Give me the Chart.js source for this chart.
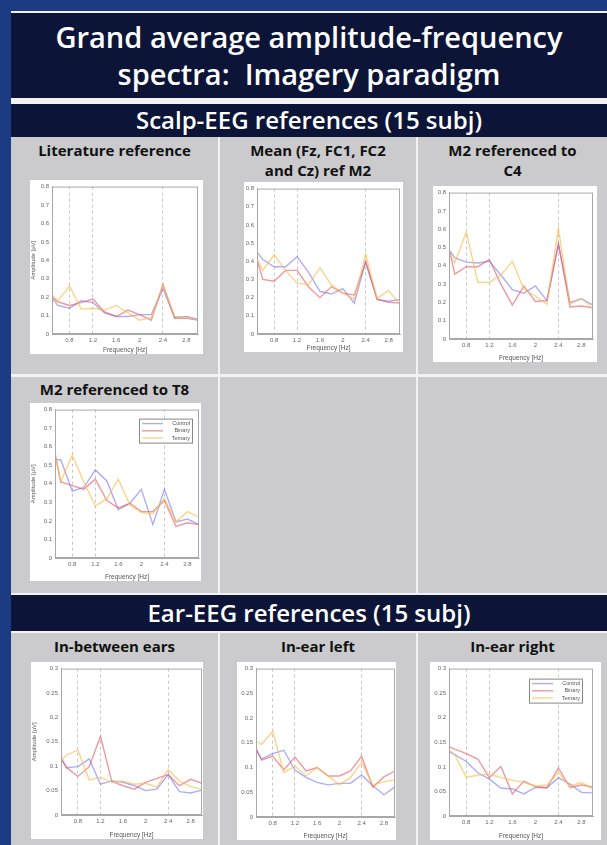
<!DOCTYPE html>
<html>
<head>
<meta charset="utf-8">
<script src="https://cdn.jsdelivr.net/npm/chart.js@4.4.1/dist/chart.umd.min.js"></script>
<style>
  body { margin: 0; width: 607px; height: 845px; background: #1b3b82; overflow: hidden; position: relative; font-family: 'Open Sans', sans-serif; }
  .blk { position: absolute; }
  .navy { background: #0c1538; color: #fff; text-align: center; font-weight: 600; }
  .grey { background: #cbcbcd; }
  .cap { position: absolute; text-align: center; font-weight: 700; font-size: 15px; color: #111; line-height: 20px; }
  .box { position: absolute; background: #fff; }
</style>
</head>
<body>
<div class="blk" style="left:11px;top:11px;width:596px;height:834px;background:#f2f2f2"></div>
<div class="blk navy" style="left:11px;top:13px;width:596px;height:85px;font-size:29px;line-height:37px;padding-top:5px;box-sizing:border-box">Grand average amplitude-frequency<br>spectra:&nbsp; Imagery paradigm</div>
<div class="blk navy" style="left:11px;top:104px;width:596px;height:33px;font-size:24px;line-height:32px">Scalp-EEG references (15 subj)</div>

<div class="blk grey" style="left:11px;top:137px;width:207px;height:237px"></div>
<div class="blk grey" style="left:220px;top:137px;width:196px;height:237px"></div>
<div class="blk grey" style="left:418px;top:137px;width:189px;height:237px"></div>
<div class="blk grey" style="left:11px;top:377px;width:207px;height:216px"></div>
<div class="blk grey" style="left:220px;top:377px;width:196px;height:216px"></div>
<div class="blk grey" style="left:418px;top:377px;width:189px;height:216px"></div>

<div class="blk navy" style="left:11px;top:595px;width:596px;height:36px;font-size:24px;line-height:35px">Ear-EEG references (15 subj)</div>

<div class="blk grey" style="left:11px;top:633px;width:207px;height:212px"></div>
<div class="blk grey" style="left:220px;top:633px;width:196px;height:212px"></div>
<div class="blk grey" style="left:418px;top:633px;width:189px;height:212px"></div>

<div class="cap" style="left:11px;top:140px;width:207px">Literature reference</div>
<div class="cap" style="left:220px;top:140px;width:196px">Mean (Fz, FC1, FC2<br>and Cz) ref M2</div>
<div class="cap" style="left:418px;top:140px;width:189px">M2 referenced to<br>C4</div>
<div class="cap" style="left:11px;top:379px;width:207px">M2 referenced to T8</div>
<div class="cap" style="left:11px;top:636px;width:207px">In-between ears</div>
<div class="cap" style="left:220px;top:636px;width:196px">In-ear left</div>
<div class="cap" style="left:418px;top:636px;width:189px">In-ear right</div>

<div class="box" id="b1"><canvas id="c1"></canvas></div>
<div class="box" id="b2"><canvas id="c2"></canvas></div>
<div class="box" id="b3"><canvas id="c3"></canvas></div>
<div class="box" id="b4"><canvas id="c4"></canvas></div>
<div class="box" id="b5"><canvas id="c5"></canvas></div>
<div class="box" id="b6"><canvas id="c6"></canvas></div>
<div class="box" id="b7"><canvas id="c7"></canvas></div>

<script>
// frequencies (Hz) shown on the x axis
const freq = [0.5, 0.6, 0.8, 1.0, 1.2, 1.4, 1.6, 1.8, 2.0, 2.2, 2.4, 2.6, 2.8, 3.0];
const xTicks = [0.8, 1.2, 1.6, 2, 2.4, 2.8];
const xTickLabels = ['0.8', '1.2', '1.6', '2', '2.4', '2.8'];
const dashedFreqs = [0.8, 1.2, 2.4];
const scalpYTicks = [0, 0.1, 0.2, 0.3, 0.4, 0.5, 0.6, 0.7, 0.8];
const scalpYLabels = ['0', '0.1', '0.2', '0.3', '0.4', '0.5', '0.6', '0.7', '0.8'];
const earYTicks = [0, 0.05, 0.1, 0.15, 0.2, 0.25, 0.3];
const earYLabels = ['0', '0.05', '0.1', '0.15', '0.2', '0.25', '0.3'];
const seriesNames = ['Control', 'Binary', 'Ternary'];

// Literature reference
const litControl = [0.195, 0.155, 0.14, 0.18, 0.17, 0.115, 0.095, 0.095, 0.105, 0.105, 0.245, 0.09, 0.095, 0.08];
const litBinary  = [0.2, 0.175, 0.155, 0.17, 0.19, 0.12, 0.095, 0.13, 0.105, 0.075, 0.27, 0.085, 0.085, 0.075];
const litTernary = [0.21, 0.18, 0.26, 0.135, 0.14, 0.13, 0.155, 0.115, 0.075, 0.09, 0.265, 0.095, 0.09, 0.075];
// Mean (Fz, FC1, FC2 and Cz) ref M2
const meanControl = [0.45, 0.41, 0.37, 0.37, 0.425, 0.34, 0.235, 0.22, 0.25, 0.17, 0.40, 0.19, 0.18, 0.19];
const meanBinary  = [0.41, 0.30, 0.29, 0.35, 0.35, 0.26, 0.20, 0.26, 0.225, 0.215, 0.395, 0.19, 0.175, 0.17];
const meanTernary = [0.41, 0.35, 0.435, 0.35, 0.28, 0.27, 0.365, 0.27, 0.225, 0.19, 0.44, 0.195, 0.24, 0.16];
// M2 referenced to C4
const c4Control = [0.485, 0.445, 0.42, 0.415, 0.425, 0.35, 0.27, 0.25, 0.29, 0.21, 0.52, 0.20, 0.22, 0.185];
const c4Binary  = [0.495, 0.355, 0.395, 0.395, 0.435, 0.30, 0.185, 0.29, 0.205, 0.21, 0.52, 0.175, 0.18, 0.17];
const c4Ternary = [0.475, 0.415, 0.585, 0.31, 0.31, 0.35, 0.425, 0.27, 0.235, 0.19, 0.605, 0.19, 0.22, 0.165];
// M2 referenced to T8
const t8Control = [0.53, 0.53, 0.36, 0.38, 0.475, 0.415, 0.26, 0.295, 0.37, 0.18, 0.37, 0.195, 0.21, 0.18];
const t8Binary  = [0.565, 0.41, 0.39, 0.37, 0.425, 0.31, 0.27, 0.295, 0.25, 0.25, 0.31, 0.17, 0.19, 0.18];
const t8Ternary = [0.56, 0.41, 0.555, 0.41, 0.28, 0.32, 0.425, 0.285, 0.245, 0.24, 0.32, 0.195, 0.25, 0.22];
// In-between ears
const betwControl = [0.115, 0.097, 0.099, 0.115, 0.063, 0.07, 0.067, 0.06, 0.05, 0.053, 0.083, 0.048, 0.045, 0.051];
const betwBinary  = [0.117, 0.097, 0.079, 0.099, 0.161, 0.069, 0.06, 0.053, 0.067, 0.075, 0.083, 0.06, 0.073, 0.065];
const betwTernary = [0.111, 0.123, 0.133, 0.072, 0.077, 0.067, 0.07, 0.063, 0.065, 0.057, 0.093, 0.07, 0.058, 0.053];
// In-ear left
const leftControl = [0.137, 0.117, 0.128, 0.135, 0.095, 0.08, 0.07, 0.065, 0.068, 0.068, 0.085, 0.063, 0.045, 0.061];
const leftBinary  = [0.139, 0.115, 0.123, 0.095, 0.121, 0.093, 0.1, 0.083, 0.083, 0.093, 0.123, 0.06, 0.081, 0.093];
const leftTernary = [0.153, 0.147, 0.173, 0.09, 0.103, 0.083, 0.1, 0.083, 0.065, 0.08, 0.11, 0.065, 0.071, 0.075];
// In-ear right
const rightControl = [0.131, 0.125, 0.111, 0.088, 0.075, 0.057, 0.055, 0.045, 0.058, 0.058, 0.078, 0.065, 0.048, 0.047];
const rightBinary  = [0.141, 0.136, 0.127, 0.116, 0.078, 0.101, 0.045, 0.071, 0.06, 0.057, 0.098, 0.058, 0.063, 0.059];
const rightTernary = [0.135, 0.125, 0.079, 0.083, 0.085, 0.078, 0.073, 0.068, 0.061, 0.063, 0.088, 0.061, 0.068, 0.055];

const lineColors = ['rgba(105,105,245,0.55)', 'rgba(228,85,95,0.6)', 'rgba(250,188,75,0.65)'];

// box = white image [left, top, width, height]; plot = axes [left, top, right, bottom]
const panels = [
  { id: 'c1', box: [30, 180, 173, 174], plot: [52, 185, 198, 334], ear: false, ytitle: true,  legend: false, series: [litControl, litBinary, litTernary] },
  { id: 'c2', box: [244, 182, 159, 170], plot: [257, 185, 400, 334], ear: false, ytitle: false, legend: false, series: [meanControl, meanBinary, meanTernary] },
  { id: 'c3', box: [433, 186, 164, 176], plot: [449, 189, 593, 339], ear: false, ytitle: false, legend: false, series: [c4Control, c4Binary, c4Ternary] },
  { id: 'c4', box: [30, 403, 171, 178], plot: [55, 408, 199, 558], ear: false, ytitle: true,  legend: true,  series: [t8Control, t8Binary, t8Ternary] },
  { id: 'c5', box: [31, 662, 172, 177], plot: [61, 665, 202, 815], ear: true,  ytitle: true,  legend: false, series: [betwControl, betwBinary, betwTernary] },
  { id: 'c6', box: [237, 662, 159, 178], plot: [256, 665, 395, 817], ear: true,  ytitle: false, legend: false, series: [leftControl, leftBinary, leftTernary] },
  { id: 'c7', box: [430, 662, 171, 178], plot: [449, 663, 593, 816], ear: true,  ytitle: false, legend: true,  series: [rightControl, rightBinary, rightTernary] }
];

// frame around the axes and the small MATLAB-like legend
const framePlugin = {
  id: 'frame',
  afterDraw(chart, args, opts) {
    const { ctx, chartArea: a } = chart;
    ctx.save();
    ctx.strokeStyle = '#a8a8a8';
    ctx.lineWidth = 1;
    ctx.strokeRect(a.left + 0.5, a.top + 0.5, a.right - a.left - 1, a.bottom - a.top - 1);
    if (opts.legend) {
      const w = 53, h = 24;
      const x = a.right - w - opts.inset[0], y = a.top + opts.inset[1];
      ctx.fillStyle = '#fff';
      ctx.fillRect(x, y, w, h);
      ctx.strokeStyle = '#888';
      ctx.strokeRect(x + 0.5, y + 0.5, w, h);
      ctx.font = '5.5px "Liberation Sans", Arial, sans-serif';
      ctx.textAlign = 'right';
      ctx.textBaseline = 'middle';
      seriesNames.forEach((name, i) => {
        const ly = y + 5 + i * 7.2;
        ctx.strokeStyle = lineColors[i];
        ctx.lineWidth = 1.4;
        ctx.beginPath();
        ctx.moveTo(x + 3, ly);
        ctx.lineTo(x + 24, ly);
        ctx.stroke();
        ctx.fillStyle = '#555';
        ctx.fillText(name, x + w - 2, ly);
      });
    }
    ctx.restore();
  }
};

const tickFont = { size: 6, family: '"Liberation Sans", Arial, sans-serif' };

panels.forEach(p => {
  const [bl, bt, bw, bh] = p.box;
  const [pl, pt, pr, pb] = p.plot;
  const holder = document.getElementById('b' + p.id.slice(1));
  holder.style.left = bl + 'px';
  holder.style.top = bt + 'px';
  holder.style.width = bw + 'px';
  holder.style.height = bh + 'px';

  const yt = p.ear ? earYTicks : scalpYTicks;
  const yl = p.ear ? earYLabels : scalpYLabels;

  new Chart(document.getElementById(p.id), {
    type: 'line',
    data: {
      datasets: p.series.map((vals, i) => ({
        label: seriesNames[i],
        data: vals.map((v, k) => ({ x: freq[k], y: v })),
        borderColor: lineColors[i],
        borderWidth: 1.4,
        pointRadius: 0,
        tension: 0,
        order: 3 - i
      }))
    },
    options: {
      responsive: true,
      maintainAspectRatio: false,
      animation: false,
      layout: { padding: { left: 0, top: pt - bt, right: bl + bw - pr, bottom: 0 } },
      plugins: {
        legend: { display: false },
        tooltip: { enabled: false },
        frame: { legend: p.legend, inset: p.id === 'c4' ? [7, 9] : [11, 10] }
      },
      scales: {
        x: {
          type: 'linear',
          min: 0.5,
          max: 3.0,
          afterBuildTicks: ax => { ax.ticks = xTicks.map(v => ({ value: v })); },
          afterFit: ax => { ax.height = bt + bh - pb; },
          ticks: {
            callback: v => xTickLabels[xTicks.indexOf(v)],
            font: tickFont, color: '#666', padding: 3, maxRotation: 0, autoSkip: false
          },
          grid: {
            drawTicks: false,
            lineWidth: 0.7,
            color: c => (c.tick && dashedFreqs.includes(c.tick.value)) ? '#b0b0b0' : 'rgba(0,0,0,0)'
          },
          border: { color: '#a8a8a8', dash: [3, 3] },
          title: { display: true, text: 'Frequency [Hz]', font: { size: 6.5, family: tickFont.family }, color: '#555', padding: 0 }
        },
        y: {
          min: 0,
          max: yt[yt.length - 1],
          afterBuildTicks: ax => { ax.ticks = yt.map(v => ({ value: v })); },
          afterFit: ax => { ax.width = pl - bl; },
          ticks: {
            callback: v => yl[yt.indexOf(v)],
            font: tickFont, color: '#666', padding: 3
          },
          grid: { display: false, drawTicks: false },
          border: { color: '#a8a8a8' },
          title: { display: p.ytitle, text: 'Amplitude [µV]', font: { size: 6, family: tickFont.family }, color: '#555', padding: 0 }
        }
      }
    },
    plugins: [framePlugin]
  });
});
</script>
</body>
</html>
